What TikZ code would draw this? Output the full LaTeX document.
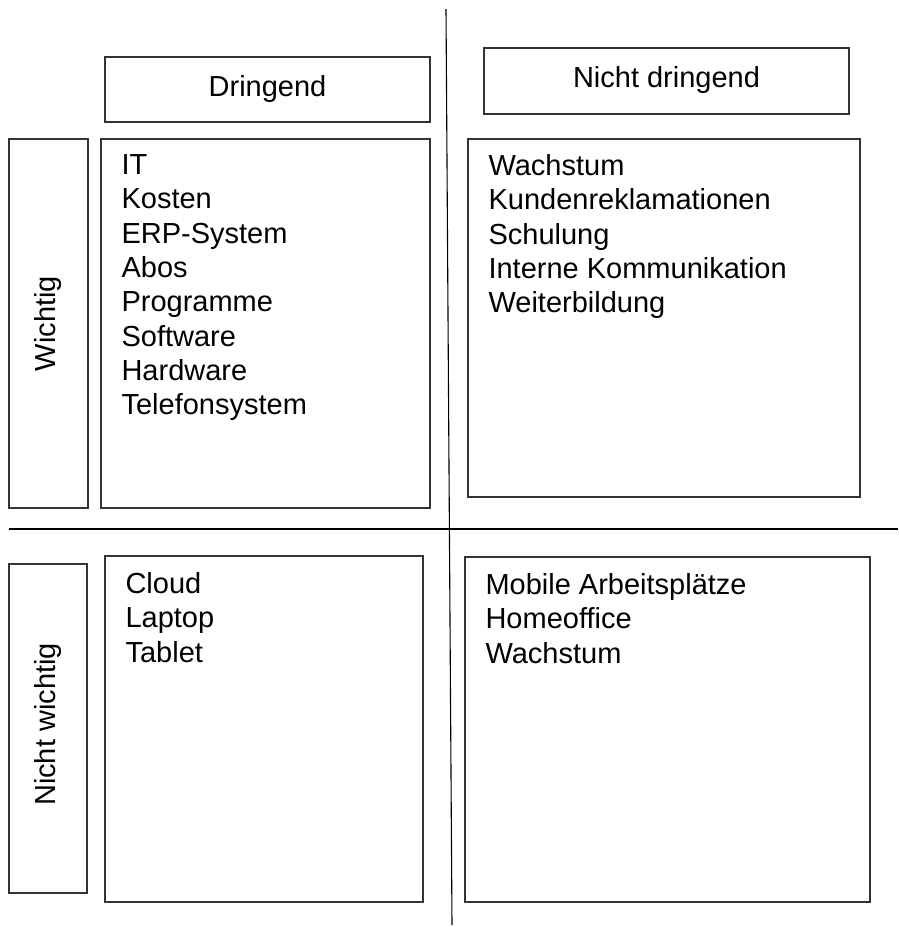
\documentclass[tikz,border=0pt]{standalone}
\usepackage{fontspec}
\setmainfont{Liberation Sans}
\usetikzlibrary{fit}

\tikzset{
  box/.style={draw=black!80, line width=1.3pt, inner sep=0pt},
  axis/.style={draw=black, line width=1.1pt},
  heading/.style={font={\fontsize{29}{34.3}\selectfont}, inner sep=0pt},
  list/.style={font={\fontsize{29}{34.3}\selectfont}, align=left, inner sep=0pt, anchor=north west}
}

\begin{document}
\begin{tikzpicture}[x=1pt, y=-1pt]
  \useasboundingbox (0,0) rectangle (898,927);

  % cross dividing the four quadrants
  \coordinate (vtop) at (446,9);
  \coordinate (vbot) at (452,925);
  \coordinate (hleft) at (9,529);
  \coordinate (hright) at (898,529);
  \draw[axis] (vtop) -- (vbot);
  \draw[axis] (hleft) -- (hright);

  % column headings
  \node[box, fit={(105,57) (430,122)}] (dr) {};
  \node[heading] (drtext) at ([yshift=1pt]dr.center) {Dringend};
  \node[box, fit={(484,48) (849,114)}] (nd) {};
  \node[heading] (ndtext) at ([yshift=1.5pt]nd.center) {Nicht dringend};

  % row headings
  \node[box, fit={(9,139) (88,508)}] (wi) {};
  \node[heading, rotate=90] (witext) at (wi.center) {Wichtig};
  \node[box, fit={(9,564) (87,893)}] (nw) {};
  \node[heading, rotate=90] (nwtext) at ([yshift=4pt]nw.center) {Nicht wichtig};

  % quadrant contents
  \node[box, fit={(101,139) (430,508)}] (q1) {};
  \node[list] (q1text) at ([xshift=21pt, yshift=-16pt]q1.north west)
    {IT\\Kosten\\ERP-System\\Abos\\Programme\\Software\\Hardware\\Telefonsystem};

  \node[box, fit={(468,139) (860,497)}] (q2) {};
  \node[list] (q2text) at ([xshift=21pt, yshift=-16pt]q2.north west)
    {Wachstum\\Kundenreklamationen\\Schulung\\Interne Kommunikation\\Weiterbildung};

  \node[box, fit={(105,556) (423,902)}] (q3) {};
  \node[list] (q3text) at ([xshift=21pt, yshift=-17pt]q3.north west)
    {Cloud\\Laptop\\Tablet};

  \node[box, fit={(465,557) (870,902)}] (q4) {};
  \node[list] (q4text) at ([xshift=21pt, yshift=-17pt]q4.north west)
    {Mobile Arbeitsplätze\\Homeoffice\\Wachstum};
\end{tikzpicture}
\end{document}
